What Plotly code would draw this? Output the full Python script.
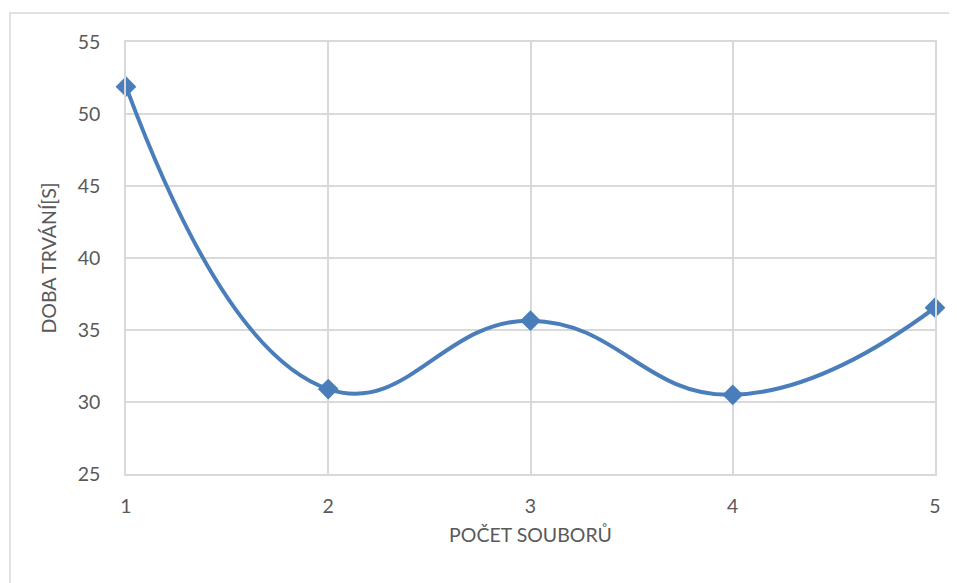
import plotly.graph_objects as go

x_vals = [1, 2, 3, 4, 5]
y_vals = [51.9, 30.9, 35.65, 30.5, 36.55]
x_title = "POČET SOUBORŮ"
y_title = "DOBA TRVÁNÍ[S]"

fig = go.Figure()
fig.add_trace(go.Scatter(
    x=x_vals, y=y_vals, mode="lines+markers",
    line=dict(color="#4A7EBB", width=4, shape="spline", smoothing=1.3),
    marker=dict(symbol="diamond", size=16, color="#4A7EBB"),
    showlegend=False, cliponaxis=False,
))

font = dict(family="Lato, 'Open Sans', sans-serif", size=19.5, color="#595959")
grid = "#D9D9D9"
fig.update_layout(
    width=949, height=575,
    margin=dict(l=118, r=22, t=34, b=109),
    paper_bgcolor="white", plot_bgcolor="white",
    font=font,
    xaxis=dict(range=[1, 5], tickvals=x_vals, showgrid=True, gridcolor=grid, gridwidth=1.5,
               showline=True, linecolor=grid, linewidth=1.5, mirror=True, zeroline=False,
               ticks="", ticklabelstandoff=14,
               title=dict(text=x_title, font=font, standoff=12)),
    yaxis=dict(range=[25, 55], dtick=5, showgrid=True, gridcolor=grid, gridwidth=1.5,
               showline=True, linecolor=grid, linewidth=1.5, mirror=True, zeroline=False,
               ticks="", ticklabelstandoff=20,
               title=dict(text=y_title, font=font, standoff=16)),
)
fig.add_shape(type="rect", xref="paper", yref="paper",
              x0=(10 - 126) / 809, x1=(970 - 126) / 809,
              y0=-(600 - 474) / 432, y1=(474 - 13) / 432,
              line=dict(color="#D9D9D9", width=1.5), layer="below")
fig.write_html("out.html")
